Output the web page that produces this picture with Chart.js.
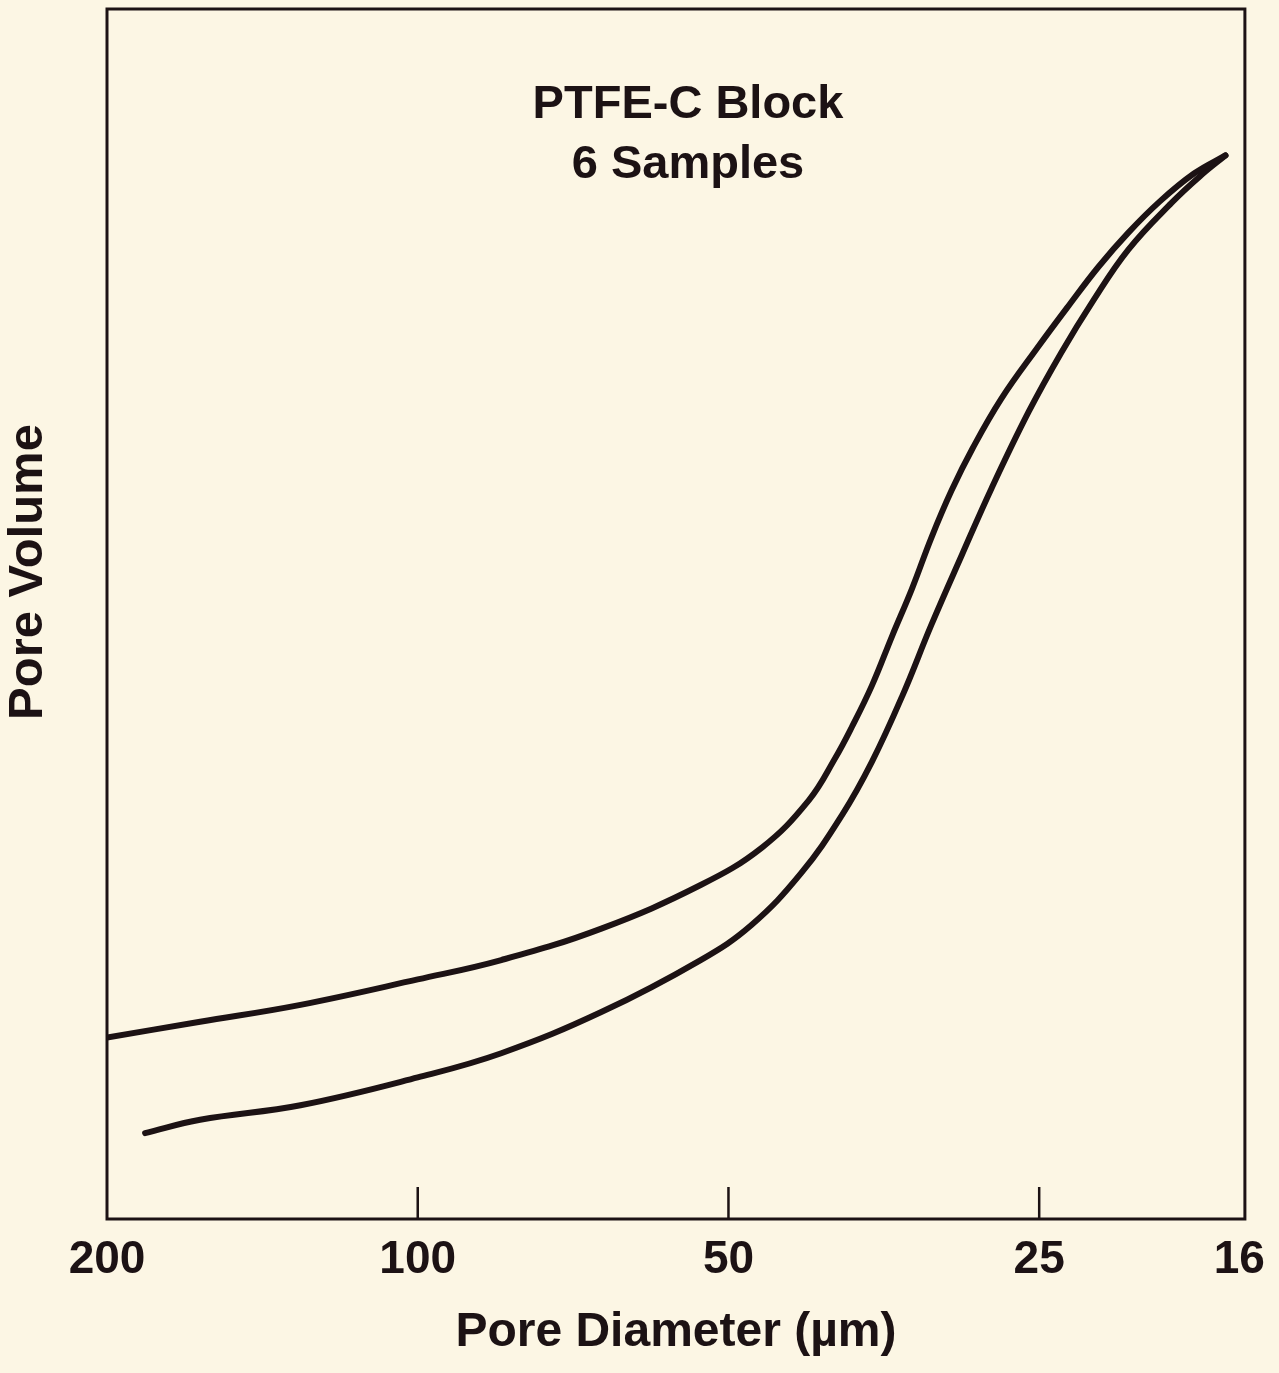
<!DOCTYPE html>
<html>
<head>
<meta charset="utf-8">
<script src="https://cdn.jsdelivr.net/npm/chart.js@4/dist/chart.umd.min.js"></script>
<style>
html,body{margin:0;padding:0;background:#fcf6e4;}
canvas{display:block;}
</style>
</head>
<body>
<canvas id="c" width="1279" height="1373"></canvas>
<script>
// ---- data ----
const tickValues = [200, 100, 50, 25, 16];
const tickLabels = ['200', '100', '50', '25', '16'];
const innerTickValues = [100, 50, 25];

const upperDiameter = [200, 162.5, 129.9, 100, 83.0, 66.4, 53.2, 46.4, 41.8, 39.4, 38.0, 36.3, 34.7, 33.2, 31.8, 30.4, 29.0, 27.2, 25.1, 23.4, 21.9, 20.5, 19.1, 17.7, 16.5];
const upperVolume   = [15.0, 16.3, 17.7, 19.8, 21.4, 24.0, 27.6, 30.7, 34.6, 38.1, 40.6, 44.1, 48.2, 52.1, 56.3, 60.2, 63.7, 67.8, 72.0, 75.5, 78.7, 81.5, 84.1, 86.4, 87.9];

const lowerDiameter = [183.7, 162.5, 129.9, 100, 83.0, 66.4, 53.2, 47.5, 42.5, 38.8, 36.3, 33.9, 31.8, 29.7, 27.8, 25.6, 23.8, 22.2, 20.5, 18.6, 17.4, 16.5];
const lowerVolume   = [7.1, 8.2, 9.4, 11.7, 13.7, 17.1, 21.4, 24.3, 28.6, 33.4, 37.8, 43.3, 49.1, 54.9, 60.4, 66.7, 71.6, 75.8, 80.1, 84.0, 86.3, 87.9];

const titleLines = ['PTFE-C Block', '6 Samples'];
const xTitle = 'Pore Diameter (\u00b5m)';
const yTitle = 'Pore Volume';

// ---- styling ----
const INK = '#1c1214';
const PAPER = '#fcf6e4';
const FONT = "'Liberation Sans', Arial, Helvetica, sans-serif";

const toPoints = (xs, ys) => xs.map((x, i) => ({x: x, y: ys[i]}));

const decor = {
  id: 'decor',
  beforeDraw(chart) {
    const ctx = chart.ctx;
    ctx.save();
    ctx.fillStyle = PAPER;
    ctx.fillRect(0, 0, chart.width, chart.height);
    ctx.restore();
  },
  afterDraw(chart) {
    const {ctx, chartArea: a, scales: {x}} = chart;
    ctx.save();
    ctx.strokeStyle = INK;
    ctx.lineWidth = 3;
    ctx.strokeRect(a.left, a.top, a.right - a.left, a.bottom - a.top);
    ctx.lineWidth = 2.5;
    innerTickValues.forEach(v => {
      const px = x.getPixelForValue(v);
      ctx.beginPath();
      ctx.moveTo(px, a.bottom);
      ctx.lineTo(px, a.bottom - 32);
      ctx.stroke();
    });
    ctx.fillStyle = INK;
    ctx.font = 'bold 47px ' + FONT;
    ctx.textAlign = 'center';
    ctx.textBaseline = 'alphabetic';
    ctx.fillText(titleLines[0], 688, 118);
    ctx.fillText(titleLines[1], 688, 178);
    ctx.translate(28, 572);
    ctx.rotate(-Math.PI / 2);
    ctx.font = 'bold 49px ' + FONT;
    ctx.textBaseline = 'middle';
    ctx.fillText(yTitle, 0, 0);
    ctx.restore();
  }
};

const lineStyle = {
  borderColor: INK,
  borderWidth: 6,
  pointRadius: 0,
  tension: 0.4,
  borderCapStyle: 'round',
  borderJoinStyle: 'round',
  fill: false
};

new Chart(document.getElementById('c'), {
  type: 'line',
  data: {
    datasets: [
      Object.assign({label: 'upper', data: toPoints(upperDiameter, upperVolume)}, lineStyle),
      Object.assign({label: 'lower', data: toPoints(lowerDiameter, lowerVolume)}, lineStyle)
    ]
  },
  options: {
    responsive: false,
    animation: false,
    events: [],
    layout: {padding: {top: 9, right: 32, left: 0, bottom: 0}},
    plugins: {legend: {display: false}, tooltip: {enabled: false}, title: {display: false}},
    scales: {
      x: {
        type: 'logarithmic',
        reverse: true,
        min: 15.8,
        max: 200,
        afterBuildTicks: s => { s.ticks = tickValues.map(v => ({value: v})); },
        afterFit: s => { s.height = 154; },
        grid: {display: false, drawTicks: false},
        border: {display: false},
        ticks: {
          autoSkip: false,
          maxRotation: 0,
          padding: 14,
          color: INK,
          font: {family: FONT, size: 46, weight: 'bold'},
          callback: (v, i) => tickLabels[i]
        },
        title: {
          display: true,
          text: xTitle,
          color: INK,
          font: {family: FONT, size: 48, weight: 'bold'},
          padding: {top: 0, bottom: 11}
        }
      },
      y: {
        type: 'linear',
        min: 0,
        max: 100,
        afterFit: s => { s.width = 107; },
        grid: {display: false, drawTicks: false},
        border: {display: false},
        ticks: {display: false}
      }
    }
  },
  plugins: [decor]
});
</script>
</body>
</html>
